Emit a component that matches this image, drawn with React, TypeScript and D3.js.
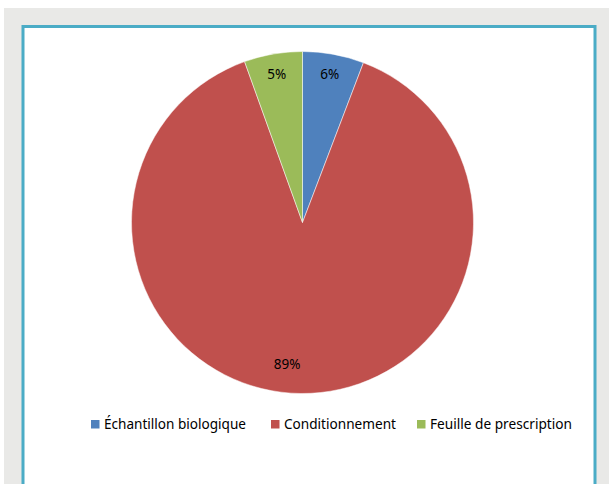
import React from "react";
import * as d3 from "d3";

const categories = ["Échantillon biologique", "Conditionnement", "Feuille de prescription"];
const values = [5.8, 88.7, 5.5];
const valueLabels = ["6%", "89%", "5%"];
const colors = ["#4f81bd", "#c0504d", "#9bbb59"];

const W = 609;
const H = 484;
const cx = 302.5;
const cy = 222.5;
const R = 171;

export default function App() {
  const pie = d3.pie<number>().sort(null).value((d) => d);
  const arcs = pie(values);
  const arcGen = d3.arc<d3.PieArcDatum<number>>().innerRadius(0).outerRadius(R);
  const labelArc = d3.arc<d3.PieArcDatum<number>>().innerRadius(R * 0.88).outerRadius(R * 0.88);
  const labelDx = [0, -14, 0];
  const labelDy = [0, -9, 0];
  const legendX = [91, 271, 417];
  const legendW = [142, 112, 142];

  return (
    <svg
      width={W}
      height={H}
      style={{ position: "absolute", left: 0, top: 0 }}
      fontFamily="'Noto Sans', 'Open Sans', sans-serif"
    >
      <rect x={0} y={0} width={W} height={H} fill="#ffffff" />
      <rect x={4} y={8} width={W - 4} height={H - 8} fill="#e9e9e7" />
      <rect x={23} y={26.5} width={572} height={H} fill="#ffffff" stroke="#4bacc6" strokeWidth={3} />
      <g transform={`translate(${cx},${cy})`}>
        {arcs.map((a, i) => (
          <path key={i} d={arcGen(a) || ""} fill={colors[i]} stroke="#ffffff" strokeWidth={0.5} />
        ))}
        {arcs.map((a, i) => {
          const [lx, ly] = labelArc.centroid(a);
          return (
            <text
              key={"l" + i}
              x={lx + labelDx[i]}
              y={ly + labelDy[i]}
              dy="0.35em"
              textAnchor="middle"
              fontSize={13.5}
              fill="#000000"
            >
              {valueLabels[i]}
            </text>
          );
        })}
      </g>
      <g>
        {categories.map((c, i) => (
          <g key={c}>
            <rect x={legendX[i]} y={420} width={8.5} height={8.5} fill={colors[i]} />
            <text
              x={legendX[i] + 13}
              y={429}
              fontSize={14}
              fill="#000000"
              textLength={legendW[i]}
              lengthAdjust="spacingAndGlyphs"
            >
              {c}
            </text>
          </g>
        ))}
      </g>
    </svg>
  );
}
